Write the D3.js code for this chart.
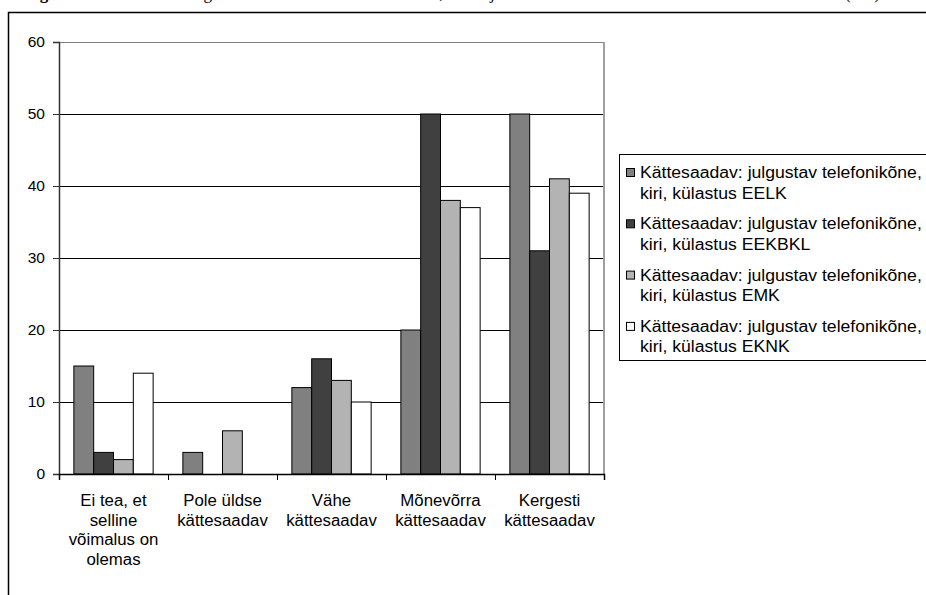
<!DOCTYPE html>
<html>
<head>
<meta charset="utf-8">
<script src="https://cdn.jsdelivr.net/npm/d3@7"></script>
<style>
  html, body { margin: 0; padding: 0; background: #fff; }
  svg { display: block; }
  text { font-family: "Liberation Sans", Arial, sans-serif; }
</style>
</head>
<body>
<svg id="chart" width="926" height="595"></svg>
<script>
// ---- data ----
const categories = [
  ["Ei tea, et", "selline", "võimalus on", "olemas"],
  ["Pole üldse", "kättesaadav"],
  ["Vähe", "kättesaadav"],
  ["Mõnevõrra", "kättesaadav"],
  ["Kergesti", "kättesaadav"]
];
const seriesNames = [
  ["Kättesaadav: julgustav telefonikõne,", "kiri, külastus EELK"],
  ["Kättesaadav: julgustav telefonikõne,", "kiri, külastus EEKBKL"],
  ["Kättesaadav: julgustav telefonikõne,", "kiri, külastus EMK"],
  ["Kättesaadav: julgustav telefonikõne,", "kiri, külastus EKNK"]
];
const seriesEELK   = [15, 3, 12, 20, 50];
const seriesEEKBKL = [3, 0, 16, 50, 31];
const seriesEMK    = [2, 6, 13, 38, 41];
const seriesEKNK   = [14, 0, 10, 37, 39];
const seriesValues = [seriesEELK, seriesEEKBKL, seriesEMK, seriesEKNK];
const seriesColors = ["#808080", "#404040", "#b3b3b3", "#ffffff"];
const yTicks = [0, 10, 20, 30, 40, 50, 60];
const titleBold = "Diagramm 12.";
const titleRest = " Julgustava telefonikõne, kirja või külastuse kättesaadavus (%)";

// ---- layout ----
const svg = d3.select("#chart");
const plot = { left: 59, right: 604, top: 42, bottom: 474 };

// helper: stretch text horizontally by a factor
function stretch(sel, f) {
  sel.each(function() {
    const w = this.getComputedTextLength();
    d3.select(this).attr("textLength", w * f).attr("lengthAdjust", "spacingAndGlyphs");
  });
}

// cut-off title at very top (only the lower part of the glyphs is visible)
const title = svg.append("text")
  .attr("x", 0).attr("y", -1)
  .style("font-family", "'Liberation Serif', 'Times New Roman', serif")
  .style("font-size", "17px")
  .attr("textLength", 880)
  .attr("lengthAdjust", "spacing");
title.append("tspan").style("font-weight", "bold").text(titleBold);
title.append("tspan").text(titleRest);

// outer chart border
svg.append("rect")
  .attr("x", 8.5).attr("y", 12.5)
  .attr("width", 1000).attr("height", 700)
  .attr("fill", "none").attr("stroke", "#000").attr("stroke-width", 1.5);

const x0 = d3.scaleBand()
  .domain(d3.range(categories.length))
  .range([plot.left, plot.right])
  .paddingInner(0).paddingOuter(0);

// 4 bars per group, 1.5 bar-widths of gap split over both sides
const x1 = d3.scaleBand()
  .domain(d3.range(seriesValues.length))
  .range([0, x0.bandwidth()])
  .paddingInner(0)
  .paddingOuter(0.75);

const y = d3.scaleLinear().domain([0, 60]).range([plot.bottom, plot.top]);

// gridlines
svg.append("g")
  .selectAll("line")
  .data(yTicks.filter(d => d > 0 && d < 60))
  .join("line")
  .attr("x1", plot.left).attr("x2", plot.right)
  .attr("y1", d => Math.round(y(d)) + 0.5).attr("y2", d => Math.round(y(d)) + 0.5)
  .attr("stroke", "#000").attr("stroke-width", 1);

// plot area top + right border (gray)
svg.append("line")
  .attr("x1", plot.left).attr("x2", plot.right)
  .attr("y1", y(60) + 0.5).attr("y2", y(60) + 0.5)
  .attr("stroke", "#808080").attr("stroke-width", 1.2);
svg.append("line")
  .attr("x1", plot.right).attr("x2", plot.right)
  .attr("y1", y(60)).attr("y2", y(0))
  .attr("stroke", "#a0a0a0").attr("stroke-width", 2);

// bars
const groups = svg.append("g").selectAll("g")
  .data(categories.map((c, i) => i))
  .join("g")
  .attr("transform", i => `translate(${x0(i)},0)`);

groups.selectAll("rect")
  .data(i => seriesValues.map((s, k) => ({ k, v: s[i] })).filter(d => d.v > 0))
  .join("rect")
  .attr("x", d => x1(d.k))
  .attr("width", x1.bandwidth())
  .attr("y", d => y(d.v))
  .attr("height", d => y(0) - y(d.v))
  .attr("fill", d => seriesColors[d.k])
  .attr("stroke", "#000").attr("stroke-width", 1);

// y axis
const yAxis = d3.axisLeft(y).tickValues(yTicks).tickSize(6).tickPadding(8).tickFormat(d3.format("d"));
const gy = svg.append("g").attr("transform", `translate(${plot.left},0)`).call(yAxis);
gy.select(".domain").attr("stroke", "#333").attr("stroke-width", 1.5);
gy.selectAll(".tick line").attr("stroke", "#333");
gy.selectAll(".tick text")
  .style("font-size", "15.5px").attr("fill", "#000")
  .style("font-family", "'Liberation Sans', Arial, sans-serif");

// x axis line + ticks at category boundaries
const xb = d3.scaleLinear().domain([0, categories.length]).range([plot.left, plot.right]);
const xAxis = d3.axisBottom(xb).tickValues(d3.range(categories.length + 1))
  .tickSize(6).tickFormat("");
const gx = svg.append("g").attr("transform", `translate(0,${plot.bottom})`).call(xAxis);
gx.select(".domain").attr("stroke", "#000").attr("stroke-width", 1.5);
gx.selectAll(".tick line").attr("stroke", "#000");

// category labels
const lab = svg.append("g").selectAll("text")
  .data(categories.map((c, i) => ({ c, i })))
  .join("text")
  .attr("text-anchor", "middle")
  .style("font-size", "16px")
  .attr("fill", "#000");
lab.each(function(d) {
  const t = d3.select(this);
  d.c.forEach((line, j) => {
    t.append("tspan")
      .attr("x", x0(d.i) + x0.bandwidth() / 2)
      .attr("y", 506 + j * 19.5)
      .text(line);
  });
});
lab.selectAll("tspan").call(stretch, 1.05);

// legend
const lg = svg.append("g");
lg.append("rect")
  .attr("x", 619.5).attr("y", 154.5)
  .attr("width", 400).attr("height", 206)
  .attr("fill", "#fff").attr("stroke", "#000").attr("stroke-width", 1);
const items = lg.selectAll("g.item")
  .data(seriesNames.map((n, k) => ({ n, k })))
  .join("g").attr("class", "item")
  .attr("transform", d => `translate(0,${168 + d.k * 51.3})`);
items.append("rect")
  .attr("x", 626.5).attr("y", 0.5)
  .attr("width", 8).attr("height", 8)
  .attr("fill", d => seriesColors[d.k])
  .attr("stroke", "#000").attr("stroke-width", 1);
items.append("text")
  .style("font-size", "16px")
  .attr("fill", "#000")
  .each(function(d) {
    const t = d3.select(this);
    d.n.forEach((line, j) => {
      t.append("tspan").attr("x", 640).attr("y", 10 + j * 20.5).text(line);
    });
  });
items.selectAll("tspan").call(stretch, 1.1);
</script>
</body>
</html>
